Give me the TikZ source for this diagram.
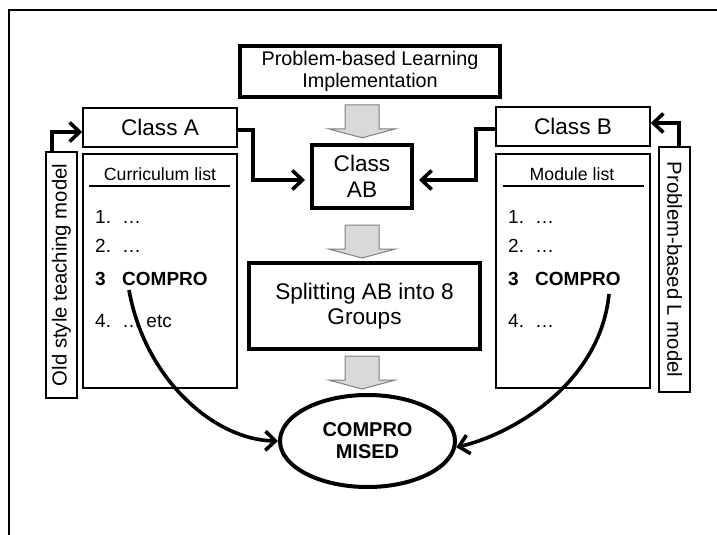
\documentclass[tikz,border=0pt]{standalone}
\usepackage{fontspec}
\setmainfont{Liberation Sans}
\usetikzlibrary{arrows.meta,calc,shapes.geometric}

\newcommand{\blockdown}[1]{\draw[blockarrow] (#1) ++(-17,0) -- ++(0,24) -- ++(-16.5,0) -- ++(33.5,9) -- ++(33.5,-9) -- ++(-16.5,0) -- ++(0,-24) -- cycle;}
\newcommand{\listentry}[2]{\makebox[27pt][l]{#1}#2}

\begin{document}
\begin{tikzpicture}[x=1pt,y=-1pt,
	thinbox/.style={draw,rectangle,line width=1.5pt,inner sep=0pt},
	thickbox/.style={draw,rectangle,line width=4pt,inner sep=0pt,align=center},
	link/.style={line width=3.6pt,-{Straight Barb[length=10pt,width=19pt]}},
	blockarrow/.style={draw=black!50,line width=1pt,fill=black!15},
	bigtext/.style={font=\fontsize{22.6}{25.5}\selectfont},
	itemtext/.style={anchor=base west,inner sep=0pt,font=\fontsize{19}{22}\selectfont},
	sidetext/.style={font=\fontsize{20.3}{22}\selectfont},
	headtext/.style={anchor=base,inner sep=0pt,font=\fontsize{17.7}{20}\selectfont}]
	\useasboundingbox (0,0) rectangle (717,535);
	\draw[line width=1.6pt] (9,535) -- (9,10) -- (717,10);

	\node[draw,rectangle,line width=3.6pt,inner sep=0pt,align=center,minimum width=260,minimum height=51,font=\fontsize{19.8}{22}\selectfont] (impl) at (370,71.5) {Problem-based Learning\\Implementation};
	\node[thickbox,bigtext,minimum width=100,minimum height=63] (classab) at (362,176.5) {Class\\AB};
	\node[thickbox,bigtext,minimum width=231,minimum height=86] (split) at (364.5,306) {Splitting AB into 8\\Groups};
	\node[draw,ellipse,line width=4pt,inner sep=0pt,align=center,minimum width=175,minimum height=92,font=\bfseries\fontsize{20}{22}\selectfont] (comp) at (367.5,441) {COMPRO\\MISED};

	\blockdown{$(classab.north |- impl.south)+(0,6)$}
	\blockdown{$(classab.south)+(0,15)$}
	\blockdown{$(classab.south |- split.south)+(0,5)$}

	\begin{scope}
		\node[thinbox,bigtext,minimum width=154,minimum height=39] (classa) at (160,127.5) {Class A};
		\node[thinbox,minimum width=154,minimum height=234] (curlist) at (160,271) {};
		\node[headtext] (curhead) at (160,180) {Curriculum list};
		\draw[line width=2pt] (89,186) -- (230,186);
		\node[itemtext] (cur1) at (95,223) {\listentry{1.}{…}};
		\node[itemtext] (cur2) at (95,252) {\listentry{2.}{…}};
		\node[itemtext] (cur3) at (95,285) {\bfseries\listentry{3}{COMPRO}};
		\node[itemtext] (cur4) at (95,327) {\listentry{4.}{… etc}};
		\node[thinbox,sidetext,rotate=90,minimum width=246,minimum height=31] (oldbox) at (61.5,275) {Old style teaching model};
	\end{scope}

	\begin{scope}
		\node[thinbox,bigtext,minimum width=154,minimum height=39] (classb) at (573,126.5) {Class B};
		\node[thinbox,minimum width=154,minimum height=234] (modlist) at (573,271) {};
		\node[headtext] (modhead) at (572,180) {Module list};
		\draw[line width=2pt] (503,186) -- (644,186);
		\node[itemtext] (mod1) at (508,223) {\listentry{1.}{…}};
		\node[itemtext] (mod2) at (508,252) {\listentry{2.}{…}};
		\node[itemtext] (mod3) at (508,285) {\bfseries\listentry{3}{COMPRO}};
		\node[itemtext] (mod4) at (508,327) {\listentry{4.}{…}};
		\node[thinbox,sidetext,rotate=-90,minimum width=245,minimum height=31] (pblbox) at (674.5,269.5) {Problem-based L model};
	\end{scope}

	\draw[link] ([xshift=-9.5]oldbox.east) |- ([yshift=-4.5]classa.west);
	\draw[link,shorten >=5pt] ([yshift=-2.5]classa.east) -- ++(15,0) |- ([yshift=-3.5]classab.west);
	\draw[link] ([xshift=4.5]pblbox.west) |- ([yshift=3.5]classb.east);
	\draw[link,shorten >=5pt] ([yshift=-2.5]classb.west) -- ++(-19,0) |- ([yshift=-3.5]classab.east);

	\draw[link] ($(cur3.base west)+(34,5)$) .. controls (145,380) and (215,440) .. (comp.west);
	\draw[link] ($(mod3.base west)+(101,9)$) .. controls (600,385) and (510,435) .. (comp.-4);
\end{tikzpicture}
\end{document}
